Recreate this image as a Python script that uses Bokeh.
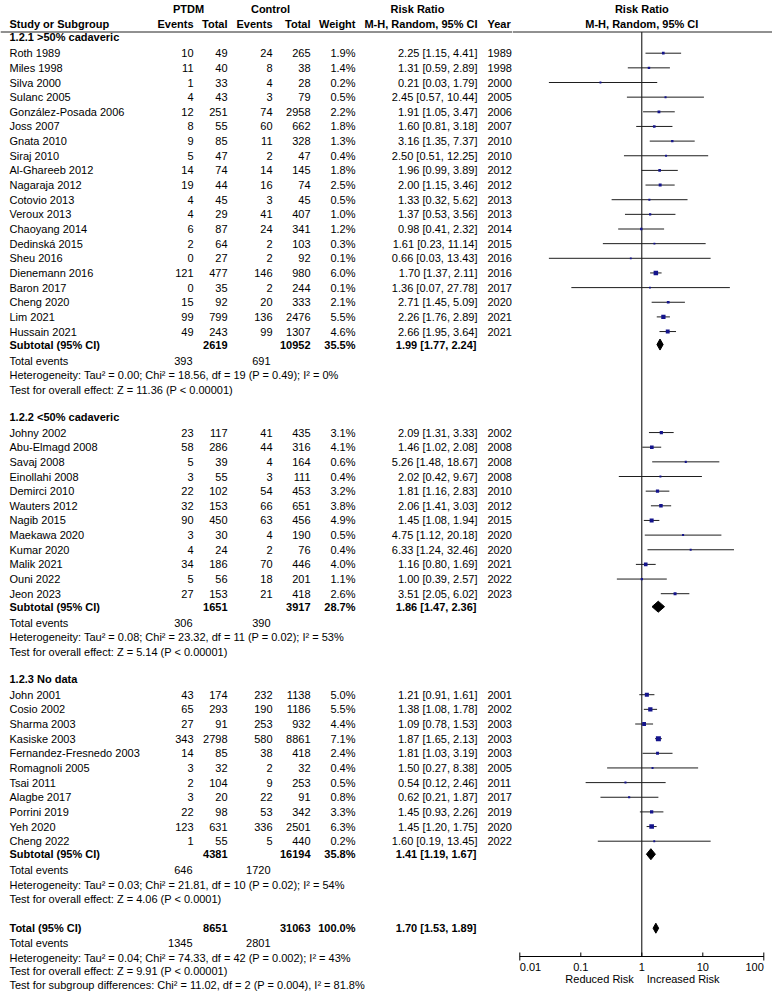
from bokeh.plotting import figure
from bokeh.models import ColumnDataSource, Range1d, Span
from bokeh.layouts import row
from bokeh.core.properties import value
from bokeh.embed import file_html
from bokeh.resources import INLINE

# ---------------- data ----------------
group_titles = ["1.2.1 >50% cadaveric", "1.2.2 <50% cadaveric", "1.2.3 No data"]

names1 = ["Roth 1989", "Miles 1998", "Silva 2000", "Sulanc 2005", "González-Posada 2006", "Joss 2007",
          "Gnata 2010", "Siraj 2010", "Al-Ghareeb 2012", "Nagaraja 2012", "Cotovio 2013", "Veroux 2013",
          "Chaoyang 2014", "Dedinská 2015", "Sheu 2016", "Dienemann 2016", "Baron 2017", "Cheng 2020",
          "Lim 2021", "Hussain 2021"]
ev_ptdm1 = [10, 11, 1, 4, 12, 8, 9, 5, 14, 19, 4, 4, 6, 2, 0, 121, 0, 15, 99, 49]
tot_ptdm1 = [49, 40, 33, 43, 251, 55, 85, 47, 74, 44, 45, 29, 87, 64, 27, 477, 35, 92, 799, 243]
ev_ctrl1 = [24, 8, 4, 3, 74, 60, 11, 2, 14, 16, 3, 41, 24, 2, 2, 146, 2, 20, 136, 99]
tot_ctrl1 = [265, 38, 28, 79, 2958, 662, 328, 47, 145, 74, 45, 407, 341, 103, 92, 980, 244, 333, 2476, 1307]
weight1 = [1.9, 1.4, 0.2, 0.5, 2.2, 1.8, 1.3, 0.4, 1.8, 2.5, 0.5, 1.0, 1.2, 0.3, 0.1, 6.0, 0.1, 2.1, 5.5, 4.6]
rr1 = [2.25, 1.31, 0.21, 2.45, 1.91, 1.60, 3.16, 2.50, 1.96, 2.00, 1.33, 1.37, 0.98, 1.61, 0.66, 1.70, 1.36, 2.71, 2.26, 2.66]
lo1 = [1.15, 0.59, 0.03, 0.57, 1.05, 0.81, 1.35, 0.51, 0.99, 1.15, 0.32, 0.53, 0.41, 0.23, 0.03, 1.37, 0.07, 1.45, 1.76, 1.95]
hi1 = [4.41, 2.89, 1.79, 10.44, 3.47, 3.18, 7.37, 12.25, 3.89, 3.46, 5.62, 3.56, 2.32, 11.14, 13.43, 2.11, 27.78, 5.09, 2.89, 3.64]
year1 = [1989, 1998, 2000, 2005, 2006, 2007, 2010, 2010, 2012, 2012, 2013, 2013, 2014, 2015, 2016, 2016, 2017, 2020, 2021, 2021]

names2 = ["Johny 2002", "Abu-Elmagd 2008", "Savaj 2008", "Einollahi 2008", "Demirci 2010", "Wauters 2012",
          "Nagib 2015", "Maekawa 2020", "Kumar 2020", "Malik 2021", "Ouni 2022", "Jeon 2023"]
ev_ptdm2 = [23, 58, 5, 3, 22, 32, 90, 3, 4, 34, 5, 27]
tot_ptdm2 = [117, 286, 39, 55, 102, 153, 450, 30, 24, 186, 56, 153]
ev_ctrl2 = [41, 44, 4, 3, 54, 66, 63, 4, 2, 70, 18, 21]
tot_ctrl2 = [435, 316, 164, 111, 453, 651, 456, 190, 76, 446, 201, 418]
weight2 = [3.1, 4.1, 0.6, 0.4, 3.2, 3.8, 4.9, 0.5, 0.4, 4.0, 1.1, 2.6]
rr2 = [2.09, 1.46, 5.26, 2.02, 1.81, 2.06, 1.45, 4.75, 6.33, 1.16, 1.00, 3.51]
lo2 = [1.31, 1.02, 1.48, 0.42, 1.16, 1.41, 1.08, 1.12, 1.24, 0.80, 0.39, 2.05]
hi2 = [3.33, 2.08, 18.67, 9.67, 2.83, 3.03, 1.94, 20.18, 32.46, 1.69, 2.57, 6.02]
year2 = [2002, 2008, 2008, 2008, 2010, 2012, 2015, 2020, 2020, 2021, 2022, 2023]

names3 = ["John 2001", "Cosio 2002", "Sharma 2003", "Kasiske 2003", "Fernandez-Fresnedo 2003",
          "Romagnoli 2005", "Tsai 2011", "Alagbe 2017", "Porrini 2019", "Yeh 2020", "Cheng 2022"]
ev_ptdm3 = [43, 65, 27, 343, 14, 3, 2, 3, 22, 123, 1]
tot_ptdm3 = [174, 293, 91, 2798, 85, 32, 104, 20, 98, 631, 55]
ev_ctrl3 = [232, 190, 253, 580, 38, 2, 9, 22, 53, 336, 5]
tot_ctrl3 = [1138, 1186, 932, 8861, 418, 32, 253, 91, 342, 2501, 440]
weight3 = [5.0, 5.5, 4.4, 7.1, 2.4, 0.4, 0.5, 0.8, 3.3, 6.3, 0.2]
rr3 = [1.21, 1.38, 1.09, 1.87, 1.81, 1.50, 0.54, 0.62, 1.45, 1.45, 1.60]
lo3 = [0.91, 1.08, 0.78, 1.65, 1.03, 0.27, 0.12, 0.21, 0.93, 1.20, 0.19]
hi3 = [1.61, 1.78, 1.53, 2.13, 3.19, 8.38, 2.46, 1.87, 2.26, 1.75, 13.45]
year3 = [2001, 2002, 2003, 2003, 2003, 2005, 2011, 2017, 2019, 2020, 2022]

# subgroup summaries
sub_tot_ptdm = [2619, 1651, 4381]
sub_tot_ctrl = [10952, 3917, 16194]
sub_weight = [35.5, 28.7, 35.8]
sub_rr = [1.99, 1.86, 1.41]
sub_lo = [1.77, 1.47, 1.19]
sub_hi = [2.24, 2.36, 1.67]
sub_ev_ptdm = [393, 306, 646]
sub_ev_ctrl = [691, 390, 1720]
sub_het = ["Heterogeneity: Tau² = 0.00; Chi² = 18.56, df = 19 (P = 0.49); I² = 0%",
           "Heterogeneity: Tau² = 0.08; Chi² = 23.32, df = 11 (P = 0.02); I² = 53%",
           "Heterogeneity: Tau² = 0.03; Chi² = 21.81, df = 10 (P = 0.02); I² = 54%"]
sub_test = ["Test for overall effect: Z = 11.36 (P < 0.00001)",
            "Test for overall effect: Z = 5.14 (P < 0.00001)",
            "Test for overall effect: Z = 4.06 (P < 0.0001)"]

# overall summary
total_ptdm = 8651
total_ctrl = 31063
total_weight = 100.0
total_rr, total_lo, total_hi = 1.70, 1.53, 1.89
total_ev_ptdm = 1345
total_ev_ctrl = 2801
total_het = "Heterogeneity: Tau² = 0.04; Chi² = 74.33, df = 42 (P = 0.002); I² = 43%"
total_test = "Test for overall effect: Z = 9.91 (P < 0.00001)"
subgroup_test = "Test for subgroup differences: Chi² = 11.02, df = 2 (P = 0.004), I² = 81.8%"

tick_vals = [0.01, 0.1, 1, 10, 100]
tick_labels = ["0.01", "0.1", "1", "10", "100"]
null_effect = 1.0
favours_left = "Reduced Risk"
favours_right = "Increased Risk"

groups = [
    (names1, ev_ptdm1, tot_ptdm1, ev_ctrl1, tot_ctrl1, weight1, rr1, lo1, hi1, year1),
    (names2, ev_ptdm2, tot_ptdm2, ev_ctrl2, tot_ctrl2, weight2, rr2, lo2, hi2, year2),
    (names3, ev_ptdm3, tot_ptdm3, ev_ctrl3, tot_ctrl3, weight3, rr3, lo3, hi3, year3),
]

# ---------------- layout (page pixel units) ----------------
FONT = "Liberation Sans"
FS = "11px"
X_NAME, X_EV1, X_TOT1, X_EV2, X_TOT2, X_W, X_RR, X_YEAR = 9, 193, 227, 272, 310, 355, 477, 487
X_TE1, X_TE2 = 192, 270
Y_TOP, Y_HEAD, Y_RULE = 8.5, 23, 31.5
Y_AXIS, Y_TICKLAB, Y_CAPTION = 956, 966, 978
STEP = 14.65

T = dict(x=[], y=[], text=[], align=[], style=[])


def put(x, y, s, align="left", bold=False):
    T["x"].append(x)
    T["y"].append(y)
    T["text"].append(s)
    T["align"].append(align)
    T["style"].append("bold" if bold else "normal")


def rr_text(r, l, h):
    return f"{r:.2f} [{l:.2f}, {h:.2f}]"


# header
put(188, Y_TOP, "PTDM", "center", True)
put(270, Y_TOP, "Control", "center", True)
put(417, Y_TOP, "Risk Ratio", "center", True)
put(X_NAME, Y_HEAD, "Study or Subgroup", "left", True)
put(X_EV1, Y_HEAD, "Events", "right", True)
put(X_TOT1, Y_HEAD, "Total", "right", True)
put(X_EV2, Y_HEAD, "Events", "right", True)
put(X_TOT2, Y_HEAD, "Total", "right", True)
put(X_W, Y_HEAD, "Weight", "right", True)
put(X_RR, Y_HEAD, "M-H, Random, 95% CI", "right", True)
put(X_YEAR, Y_HEAD, "Year", "left", True)

F = dict(y=[], rr=[], lo=[], hi=[], size=[])
D = dict(xs=[], ys=[])

pos = 36.7
for gi, g in enumerate(groups):
    names, evp, totp, evc, totc, w, rr, lo, hi, yr = g
    if gi > 0:
        pos += 27
    put(X_NAME, pos, group_titles[gi], "left", True)
    pos += 16
    for i in range(len(names)):
        yy = pos + i * STEP
        put(X_NAME, yy, names[i])
        put(X_EV1, yy, str(evp[i]), "right")
        put(X_TOT1, yy, str(totp[i]), "right")
        put(X_EV2, yy, str(evc[i]), "right")
        put(X_TOT2, yy, str(totc[i]), "right")
        put(X_W, yy, f"{w[i]:.1f}%", "right")
        put(X_RR, yy, rr_text(rr[i], lo[i], hi[i]), "right")
        put(X_YEAR, yy, str(yr[i]), "left")
        F["y"].append(yy)
        F["rr"].append(rr[i])
        F["lo"].append(lo[i])
        F["hi"].append(hi[i])
        F["size"].append(1.8 + 0.45 * w[i])
    pos = pos + (len(names) - 1) * STEP + 13
    put(X_NAME, pos, "Subtotal (95% CI)", "left", True)
    put(X_TOT1, pos, str(sub_tot_ptdm[gi]), "right", True)
    put(X_TOT2, pos, str(sub_tot_ctrl[gi]), "right", True)
    put(X_W, pos, f"{sub_weight[gi]:.1f}%", "right", True)
    put(X_RR - 1, pos, rr_text(sub_rr[gi], sub_lo[gi], sub_hi[gi]), "right", True)
    D["xs"].append([sub_lo[gi], sub_rr[gi], sub_hi[gi], sub_rr[gi]])
    D["ys"].append([pos, pos - 5.5, pos, pos + 5.5])
    pos += 16
    put(X_NAME, pos, "Total events")
    put(X_TE1, pos, str(sub_ev_ptdm[gi]), "right")
    put(X_TE2, pos, str(sub_ev_ctrl[gi]), "right")
    pos += 14.5
    put(X_NAME, pos, sub_het[gi])
    pos += 14.5
    put(X_NAME, pos, sub_test[gi])

pos += 29
put(X_NAME, pos, "Total (95% CI)", "left", True)
put(X_TOT1, pos, str(total_ptdm), "right", True)
put(X_TOT2, pos, str(total_ctrl), "right", True)
put(X_W, pos, f"{total_weight:.1f}%", "right", True)
put(X_RR - 1, pos, rr_text(total_rr, total_lo, total_hi), "right", True)
D["xs"].append([total_lo, total_rr, total_hi, total_rr])
D["ys"].append([pos, pos - 5, pos, pos + 5])
pos += 15
put(X_NAME, pos, "Total events")
put(X_TE1, pos, str(total_ev_ptdm), "right")
put(X_TE2, pos, str(total_ev_ctrl), "right")
pos += 14.5
put(X_NAME, pos, total_het)
pos += 13.5
put(X_NAME, pos, total_test)
pos += 14
put(X_NAME, pos, subgroup_test)

# ---------------- figures ----------------
H = 991
SPLIT = 512
LEFT_W, RIGHT_W = SPLIT, 260
common = dict(output_backend="svg", toolbar_location=None, min_border=0,
              x_axis_type=None, y_axis_type=None)

left = figure(width=LEFT_W, height=H, x_range=Range1d(0, SPLIT), y_range=Range1d(H, 0), **common)
left.outline_line_color = None
left.grid.visible = False
left.text(x="x", y="y", text="text", source=ColumnDataSource(T), text_align="align",
          text_baseline="middle", text_font_style="style", text_font=value(FONT),
          text_font_size=value(FS), text_color="#000000")
left.add_layout(Span(location=Y_RULE, dimension="width", line_color="#222222", line_width=1))

# right: forest plot on a log scale (61 px per decade, 0.01 at page x 519.3)
px_per_dec = 61.0
lo_dec = -2 + (SPLIT - 519.3) / px_per_dec
hi_dec = -2 + (SPLIT + RIGHT_W - 519.3) / px_per_dec
right = figure(width=RIGHT_W, height=H, x_range=Range1d(10 ** lo_dec, 10 ** hi_dec),
               y_range=Range1d(H, 0), **common)
from bokeh.models import LogScale
right.x_scale = LogScale()
right.outline_line_color = None
right.grid.visible = False
right.add_layout(Span(location=Y_RULE, dimension="width", line_color="#222222", line_width=1))

# null-effect line
right.segment(x0=[null_effect], y0=[Y_RULE], x1=[null_effect], y1=[Y_AXIS],
              line_color="#000000", line_width=1)

# axis drawn through the log scale
right.segment(x0=[tick_vals[0]], y0=[Y_AXIS], x1=[tick_vals[-1]], y1=[Y_AXIS],
              line_color="#000000", line_width=1)
n_t = len(tick_vals)
tick_top = [Y_AXIS - 4] * n_t
tick_bot = [Y_AXIS + 4 if i in (0, n_t - 1) else Y_AXIS for i in range(n_t)]
right.segment(x0=tick_vals, y0=tick_top, x1=tick_vals, y1=tick_bot, line_color="#000000", line_width=1)
tick_align = ["left" if i == 0 else ("right" if i == n_t - 1 else "center") for i in range(n_t)]
right.text(x=tick_vals, y=[Y_TICKLAB] * n_t, text=tick_labels, text_align=tick_align,
           text_baseline="middle", text_font=value(FONT), text_font_size=value(FS), text_color="#000000")
right.text(x=[null_effect], y=[Y_CAPTION], text=[favours_left], x_offset=-8, text_align="right",
           text_baseline="middle", text_font=value(FONT), text_font_size=value(FS), text_color="#000000")
right.text(x=[null_effect], y=[Y_CAPTION], text=[favours_right], x_offset=5, text_align="left",
           text_baseline="middle", text_font=value(FONT), text_font_size=value(FS), text_color="#000000")

fsrc = ColumnDataSource(F)
right.segment(x0="lo", y0="y", x1="hi", y1="y", source=fsrc, line_color="#1e1e1e", line_width=1)
right.scatter(x="rr", y="y", size="size", marker="square", source=fsrc,
              fill_color="#14148c", line_color=None)
right.patches(xs="xs", ys="ys", source=ColumnDataSource(D), fill_color="#000000", line_color="#000000")

right.text(x=[null_effect, null_effect], y=[Y_TOP, Y_HEAD], text=["Risk Ratio", "M-H, Random, 95% CI"],
           text_align="center", text_baseline="middle", text_font=value(FONT),
           text_font_size=value(FS), text_font_style=value("bold"), text_color="#000000")

layout = row(left, right)
open("out.html", "w").write(file_html(layout, INLINE))
